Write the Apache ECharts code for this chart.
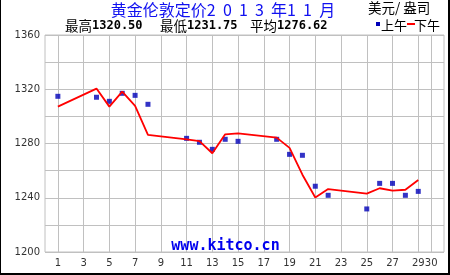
<!DOCTYPE html>
<html><head><meta charset="utf-8">
<script src="https://cdn.jsdelivr.net/npm/echarts@6/dist/echarts.min.js"></script>
<style>html,body{margin:0;padding:0;background:#fff}#c{width:450px;height:275px}</style>
</head><body><div id="c"></div>
<script>
const titleText = '黄金伦敦定价2  0  1  3  年1  1  月';
const unitText = '美元/ 盎司';
const statLabels = ['最高', '最低', '平均'];
const statValues = ['1320.50', '1231.75', '1276.62'];
const legendNames = ['上午', '下午'];
const watermark = 'www.kitco.cn';
const dayCategories = ['0','1','2','3','4','5','6','7','8','9','10','11','12','13','14','15','16','17','18','19','20','21','22','23','24','25','26','27','28','29','30','31'];
const xTickDays = [1,3,5,7,9,11,13,15,17,19,21,23,25,27,29,30];
const yTickLabels = [1200,1240,1280,1320,1360];
const fixDays = [1,4,5,6,7,8,11,12,13,14,15,18,19,20,21,22,25,26,27,28,29];
const amFix = [1314.8,1314.1,1311.1,1317.0,1315.5,1308.9,1283.8,1280.9,1275.7,1283.1,1281.6,1283.1,1272.0,1271.3,1248.5,1241.8,1231.75,1250.6,1250.6,1241.8,1244.7];
const pmFix = [1307.2,1320.5,1307.2,1318.2,1307.8,1286.3,1283.1,1281.8,1272.8,1286.8,1287.5,1284.3,1276.8,1257.0,1240.2,1246.4,1243.0,1247.0,1245.2,1245.9,1253.1];

const chart = echarts.init(document.getElementById('c'), null, {renderer: 'canvas'});
const cjk = '"Noto Sans CJK SC", sans-serif';
const grayLine = '#c0c0c0';
const showDay = (idx, val) => xTickDays.includes(Number(val));

const statText = statLabels.map((l, i) => ({
  type: 'text', x: [65, 160, 250][i], y: 26,
  style: {
    text: '{a|' + l + '}{n|' + statValues[i] + '}',
    verticalAlign: 'middle',
    rich: {
      a: {fontFamily: cjk, fontSize: 13.5, fill: '#000'},
      n: {fontFamily: '"DejaVu Sans Mono", monospace', fontWeight: 'bold', fontSize: 12, fill: '#000'}
    }
  }
}));

chart.setOption({
  backgroundColor: '#fff',
  animation: false,
  grid: {left: 45, right: 6, top: 35, bottom: 23, show: true, borderColor: grayLine, borderWidth: 1, backgroundColor: '#fff'},
  xAxis: {
    type: 'category', data: dayCategories, boundaryGap: false,
    axisLine: {show: false}, axisTick: {show: false},
    axisLabel: {interval: showDay, margin: 6, fontFamily: 'DejaVu Sans', fontSize: 10, color: '#333'},
    splitLine: {show: true, interval: showDay, lineStyle: {color: grayLine, width: 1}}
  },
  yAxis: {
    type: 'value', min: 1200, max: 1360, interval: 20,
    axisLine: {show: false}, axisTick: {show: false},
    axisLabel: {margin: 5, fontFamily: 'DejaVu Sans', fontSize: 10, color: '#333',
      formatter: v => yTickLabels.includes(v) ? String(v) : ''},
    splitLine: {show: true, lineStyle: {color: grayLine, width: 1}}
  },
  series: [
    {
      name: legendNames[0], type: 'scatter', z: 2,
      symbol: 'rect', symbolSize: 5,
      itemStyle: {color: '#0000b8'},
      data: fixDays.map((d, i) => [d, amFix[i]])
    },
    {
      name: legendNames[1], type: 'line', z: 3,
      symbol: 'none', lineStyle: {color: '#ff0000', width: 1.8},
      data: fixDays.map((d, i) => [d, pmFix[i]])
    }
  ],
  graphic: [
    {type: 'text', x: 223, y: 10, style: {text: titleText, fontFamily: cjk, fontSize: 16, fill: '#1010f0', align: 'center', verticalAlign: 'middle'}},
    ...statText,
    {type: 'text', x: 368, y: 8, style: {text: unitText, fontFamily: cjk, fontSize: 13.5, fill: '#000', verticalAlign: 'middle'}},
    {type: 'rect', shape: {x: 376, y: 22, width: 4, height: 4}, style: {fill: '#0000b8'}},
    {type: 'text', x: 381, y: 25, style: {text: legendNames[0], fontFamily: cjk, fontSize: 13, fill: '#000', verticalAlign: 'middle'}},
    {type: 'rect', shape: {x: 407, y: 23, width: 8, height: 2}, style: {fill: '#ff0000'}},
    {type: 'text', x: 414, y: 25, style: {text: legendNames[1], fontFamily: cjk, fontSize: 13, fill: '#000', verticalAlign: 'middle'}},
    {type: 'text', x: 225.5, y: 246, z: 10, style: {text: watermark, fontFamily: '"DejaVu Sans Mono", monospace', fontWeight: 'bold', fontSize: 15, fill: '#0000ee', align: 'center', verticalAlign: 'middle'}},
    {type: 'rect', shape: {x: 0, y: 0, width: 1, height: 275}, style: {fill: '#000'}},
    {type: 'rect', shape: {x: 448, y: 0, width: 2, height: 275}, style: {fill: '#000'}},
    {type: 'rect', shape: {x: 0, y: 273, width: 450, height: 2}, style: {fill: '#000'}}
  ]
});
</script></body></html>
